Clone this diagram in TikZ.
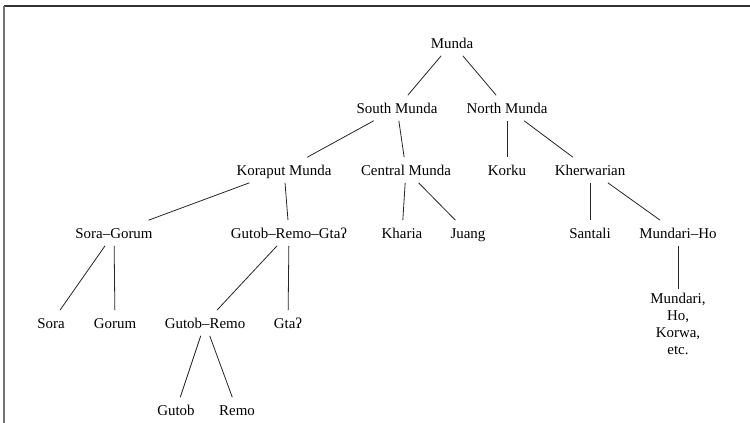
\documentclass[tikz,border=0pt]{standalone}
\usepackage{fontspec}
\setmainfont{Liberation Serif}
\tikzset{
  lang/.style={inner sep=0pt, outer xsep=1pt, outer ysep=4.6pt,
    text height=9pt, text depth=1pt, font=\fontsize{11.2}{12.8}\selectfont},
  langstack/.style={inner sep=0pt, outer sep=3pt, align=center,
    font=\fontsize{11.2}{12.8}\selectfont},
  branch/.style={draw=black!85, line width=0.6pt}
}
\begin{document}
\begin{tikzpicture}[x=0.75pt,y=-0.75pt]
% family tree of Munda, coordinates taken in pixels
  \useasboundingbox (0,0) rectangle (750,423);
  \draw[black!80, line width=1.2pt] (4,6) -- (750,6);
  \draw[black!55, line width=1.5pt] (4,6) -- (4,423);
  \node[lang] (munda) at (452,43) {Munda};
  \node[lang] (south) at (397,108) {South Munda};
  \node[lang] (north) at (507,108) {North Munda};
  \node[lang] (koraput) at (284,170) {Koraput Munda};
  \node[lang] (central) at (406,170) {Central Munda};
  \node[lang] (korku) at (507,170) {Korku};
  \node[lang] (kherw) at (590,170) {Kherwarian};
  \node[lang] (soragorum) at (114,233) {Sora–Gorum};
  \node[lang] (grg) at (289,233) {Gutob–Remo–Gtaʔ};
  \node[lang] (kharia) at (402,233) {Kharia};
  \node[lang] (juang) at (468,233) {Juang};
  \node[lang] (santali) at (590,233) {Santali};
  \node[lang] (mundariho) at (678,233) {Mundari–Ho};
  \node[lang] (sora) at (51,323) {Sora};
  \node[lang] (gorum) at (115,323) {Gorum};
  \node[lang] (gutobremo) at (205,323) {Gutob–Remo};
  \node[lang] (gta) at (288,323) {Gtaʔ};
  \node[langstack] (mundari) at (678,324) {Mundari,\\Ho,\\Korwa,\\etc.};
  \node[lang] (gutob) at (176,410) {Gutob};
  \node[lang] (remo) at (237,410) {Remo};
  \draw[branch] (munda) -- (south);
  \draw[branch] (munda) -- (north);
  \draw[branch] (south) -- (koraput);
  \draw[branch] (south) -- (central);
  \draw[branch] (north) -- (korku);
  \draw[branch] (north) -- (kherw);
  \draw[branch] (koraput) -- (soragorum);
  \draw[branch] (koraput) -- (grg);
  \draw[branch] (central) -- (kharia);
  \draw[branch] (central) -- (juang);
  \draw[branch] (kherw) -- (santali);
  \draw[branch] (kherw) -- (mundariho);
  \draw[branch] (soragorum) -- (sora);
  \draw[branch] (soragorum) -- (gorum);
  \draw[branch] (grg) -- (gutobremo);
  \draw[branch] (grg) -- (gta);
  \draw[branch] (mundariho) -- (mundari);
  \draw[branch] (gutobremo) -- (gutob);
  \draw[branch] (gutobremo) -- (remo);
\end{tikzpicture}
\end{document}
